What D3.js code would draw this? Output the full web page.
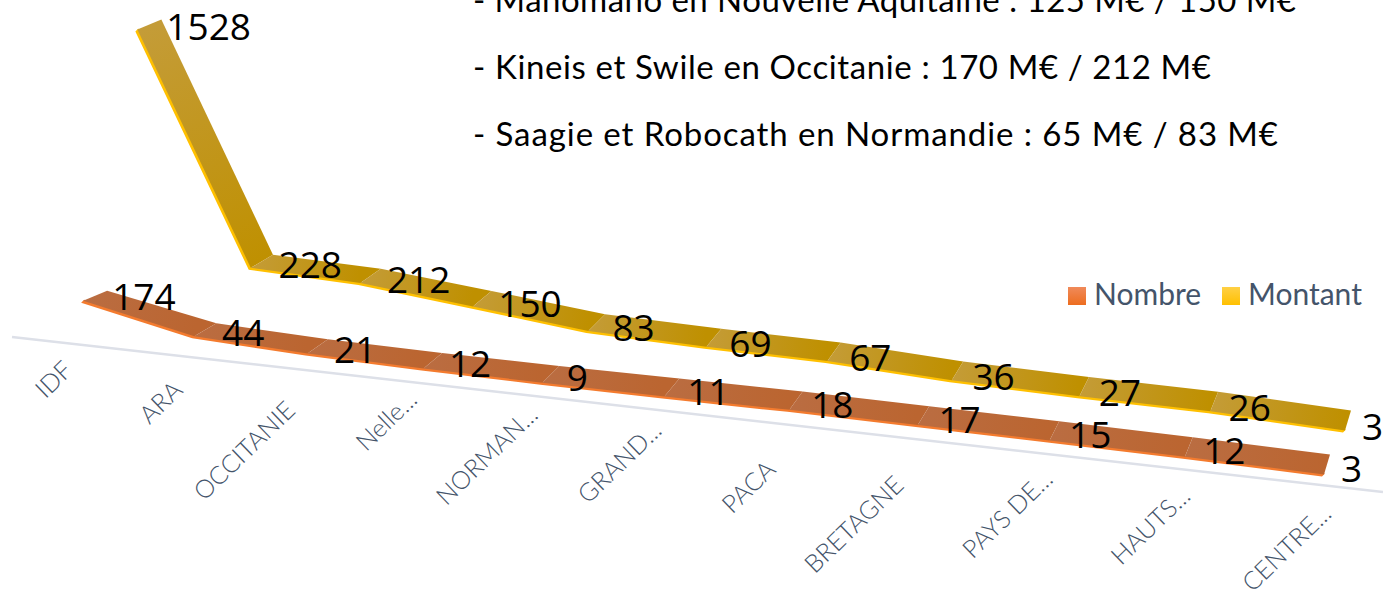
<!DOCTYPE html>
<html>
<head>
<meta charset="utf-8">
<script src="https://cdn.jsdelivr.net/npm/d3@7"></script>
<style>
  html, body { margin: 0; padding: 0; background: #fff; overflow: hidden; }
  .note { font-family: Lato, "Open Sans", sans-serif; font-size: 33px; fill: #000; }
  .cat { font-family: Lato, "Open Sans", sans-serif; font-weight: 300; font-size: 25px; fill: #44546A; }
  .legend { font-family: Lato, "Open Sans", sans-serif; font-size: 30px; fill: #44546A; }
  .val { font-family: "Open Sans", sans-serif; font-size: 37px; fill: #000; dominant-baseline: central; }
</style>
</head>
<body>
<script>
var width = 1383, height = 597;

//-----------DATA ---------------------------//
var categories = ["IDF","ARA","OCCITANIE","Nelle...","NORMAN...","GRAND...","PACA","BRETAGNE","PAYS DE...","HAUTS...","CENTRE..."];
var nombre = [174,44,21,12,9,11,18,17,15,12,3];
var montant = [1528,228,212,150,83,69,67,36,27,26,3];
var seriesNames = ["Nombre","Montant"];
var notes = ["- Manomano en Nouvelle Aquitaine : 125 M€ / 150 M€",
             "- Kineis et Swile en Occitanie : 170 M€ / 212 M€",
             "- Saagie et Robocath en Normandie : 65 M€ / 83 M€"];
var noteLengths = [823, 738, 805];

var svg = d3.select("body").append("svg")
    .attr("width", width)
    .attr("height", height);
var defs = svg.append("defs");

//-----------PERSPECTIVE HELPERS ---------------------------//
var t = d3.scalePoint().domain(categories).range([0, 1]);
var h = d3.scaleLinear().domain([0, 1528]).range([0, 266]); // value -> lift in px
var k = 0.12; // foreshortening along the category axis
function persp(u) { return u * (1 - k) / (1 - k * u); }

function makeRow(x0, x1, yEnd, slope) {
  var px = d3.scaleLinear().domain([0, 1]).range([x0, x1]);
  return function(cat, value) {
    var bx = px(persp(t(cat)));
    return { x: bx - value * 0.005, y: yEnd + slope * (bx - x1) - h(value) };
  };
}

// depth of the ribbon, it gets narrower to the right but taller
var depthX = d3.scaleLinear().domain([0, 1]).range([26, 8]);
var depthY = d3.scaleLinear().domain([0, 0.1, 0.5, 1]).range([-12, -15, -20, -22]);

//-----------RIBBON ---------------------------//
function drawRibbon(name, values, row, edgeColor, light, dark) {
  var g = svg.append("g").attr("class", "ribbon-" + name);
  var pts = categories.map(function(c, i) { return row(c, values[i]); });

  // thin bright edge under the top face
  var front = pts.map(function(p) { return [p.x, p.y]; });
  var inner = pts.map(function(p) { return [p.x + 3, p.y - 3]; });
  g.append("path")
    .attr("d", d3.line()(front.concat(inner.reverse())) + "Z")
    .attr("fill", edgeColor);

  // top face, one gradient per segment
  for (var i = 0; i < pts.length - 1; i++) {
    var u0 = t(categories[i]), u1 = t(categories[i + 1]);
    var a = pts[i], b = pts[i + 1];
    var id = "grad-" + name + "-" + i;
    var gr = defs.append("linearGradient")
      .attr("id", id)
      .attr("gradientUnits", "userSpaceOnUse")
      .attr("x1", a.x).attr("y1", a.y)
      .attr("x2", b.x).attr("y2", b.y);
    gr.append("stop").attr("offset", "0%").attr("stop-color", light);
    gr.append("stop").attr("offset", "100%").attr("stop-color", dark);
    var face = [
      [a.x + 2, a.y - 2],
      [b.x + 2, b.y - 2],
      [b.x + depthX(u1), b.y + depthY(u1)],
      [a.x + depthX(u0), a.y + depthY(u0)]
    ];
    g.append("path")
      .attr("d", d3.line()(face) + "Z")
      .attr("fill", "url(#" + id + ")");
  }
}

function drawValues(values, row, dxStart, dxEnd, dyStart, dyEnd) {
  var dx = d3.scaleLinear().domain([0, 1]).range([dxStart, dxEnd]);
  var dy = d3.scaleLinear().domain([0, 1]).range([dyStart, dyEnd]);
  svg.append("g").selectAll("text")
    .data(values)
    .enter().append("text")
    .attr("class", "val")
    .attr("x", function(d, i) { return row(categories[i], d).x + dx(t(categories[i])); })
    .attr("y", function(d, i) { return row(categories[i], d).y + dy(t(categories[i])); })
    .text(function(d) { return d; });
}

//-----------DRAW ---------------------------//
var rowNombre = makeRow(82, 1322, 477, 0.116);
var rowMontant = makeRow(143, 1343, 433, 0.113);

// axis line
var axisY = d3.scaleLinear().domain([12, 1383]).range([337, 492]);
svg.append("line")
  .attr("x1", 12).attr("y1", axisY(12))
  .attr("x2", 1383).attr("y2", axisY(1383))
  .attr("stroke", "#DDE0E8")
  .attr("stroke-width", 2.5);

drawRibbon("montant", montant, rowMontant, "#FFC000", "#C49C38", "#BF9000");
drawRibbon("nombre", nombre, rowNombre, "#F47B2E", "#BA6D42", "#BB6530");

drawValues(montant, rowMontant, 31, 19, -6, -7);
drawValues(nombre, rowNombre, 31, 19, -7, -9);

// category labels, the truncated ones sit higher than the full ones
var rowLabel = d3.scaleLinear().domain([0, 1]).range([74, 1333]);
var offFull = d3.scaleLinear().domain([0, 0.2, 0.7]).range([28, 43, 49]);
var offCut = d3.scaleLinear().domain([0, 1]).range([14, 29]);
svg.append("g").selectAll("text")
  .data(categories)
  .enter().append("text")
  .attr("class", "cat")
  .attr("text-anchor", "end")
  .attr("transform", function(d) {
    var u = t(d), cut = d.slice(-3) == "...";
    var lx = rowLabel(persp(u)) - (cut ? 0 : 22 * u);
    var ly = axisY(lx) + (cut ? offCut(u) : offFull(u));
    return "translate(" + lx + "," + ly + ") rotate(-44)";
  })
  .text(function(d) { return d; });

// legend
var legendX = [1068, 1222], legendColors = [["#F08A5A","#ED6D1F"],["#FFD045","#FFC000"]];
seriesNames.forEach(function(s, i) {
  var gr = defs.append("linearGradient").attr("id", "leg" + i)
    .attr("x1", 0).attr("y1", 0).attr("x2", 0).attr("y2", 1);
  gr.append("stop").attr("offset", "0%").attr("stop-color", legendColors[i][0]);
  gr.append("stop").attr("offset", "100%").attr("stop-color", legendColors[i][1]);
  svg.append("rect")
    .attr("x", legendX[i]).attr("y", 287)
    .attr("width", 18).attr("height", 18)
    .attr("fill", "url(#leg" + i + ")");
  svg.append("text").attr("class", "legend")
    .attr("x", legendX[i] + 26).attr("y", 305)
    .text(s);
});

// notes above the chart
svg.append("g").selectAll("text")
  .data(notes)
  .enter().append("text")
  .attr("class", "note")
  .attr("x", 473)
  .attr("y", function(d, i) { return 12 + i * 67; })
  .attr("textLength", function(d, i) { return noteLengths[i]; })
  .attr("lengthAdjust", "spacing")
  .text(function(d) { return d; });
</script>
</body>
</html>
